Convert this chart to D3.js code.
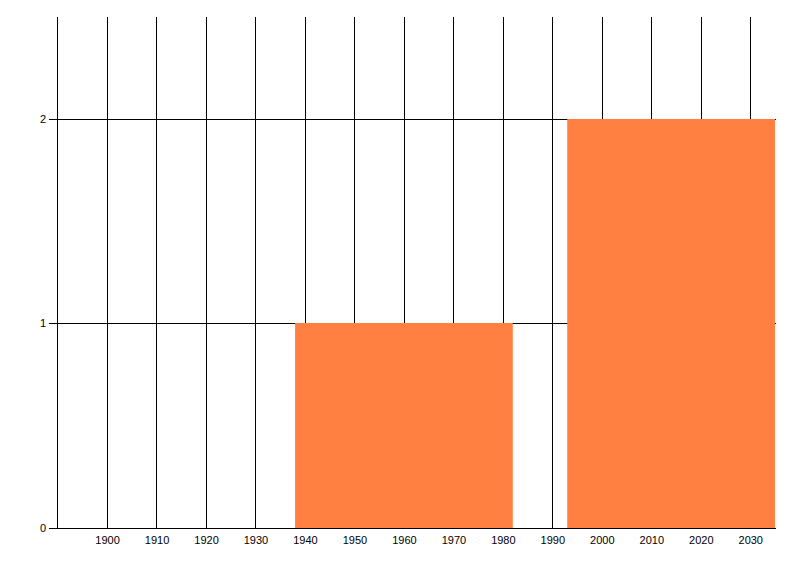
<!DOCTYPE html>
<html>
<head>
<meta charset="utf-8">
<script src="https://cdn.jsdelivr.net/npm/d3@7"></script>
<style>
  body { margin: 0; background: #fff; }
  svg { display: block; }
  text { font-family: "Liberation Sans", Arial, sans-serif; font-size: 11px; fill: #000; }
</style>
</head>
<body>
<svg id="chart" width="800" height="576"></svg>
<script>
// Data
const binStart = [1938, 1993];
const binEnd   = [1982, 2035];
const counts   = [1, 2];
const xTicks = [1890, 1900, 1910, 1920, 1930, 1940, 1950, 1960, 1970, 1980, 1990, 2000, 2010, 2020, 2030];
const xLabels = [1900, 1910, 1920, 1930, 1940, 1950, 1960, 1970, 1980, 1990, 2000, 2010, 2020, 2030];
const yTicks = [0, 1, 2];

const svg = d3.select("#chart");
const x = d3.scaleLinear().domain([1890, 2035]).range([57.6, 775]);
const y = d3.scaleLinear().domain([0, 2.5]).range([528, 16.75]);
const px = v => Math.round(v - 0.25);
const snap = v => px(v) + 0.5;

const grid = svg.append("g");
// vertical grid lines
grid.selectAll("line.v")
  .data(xTicks)
  .join("line")
  .attr("class", "v")
  .attr("x1", d => snap(x(d))).attr("x2", d => snap(x(d)))
  .attr("y1", px(y(2.5))).attr("y2", 528)
  .attr("stroke", "#000").attr("stroke-width", 1);

// horizontal grid lines with tick marks
grid.selectAll("line.h")
  .data(yTicks)
  .join("line")
  .attr("class", "h")
  .attr("x1", 49).attr("x2", 776)
  .attr("y1", d => snap(y(d))).attr("y2", d => snap(y(d)))
  .attr("stroke", "#000").attr("stroke-width", 1);

// bars
svg.append("g").selectAll("rect")
  .data(counts.map((c, i) => ({ s: binStart[i], e: binEnd[i], c })))
  .join("rect")
  .attr("x", d => x(d.s))
  .attr("width", d => x(d.e) - x(d.s))
  .attr("y", d => px(y(d.c)))
  .attr("height", d => 528 - px(y(d.c)))
  .attr("fill", "#ff8040");

// axis lines on top
svg.append("line")
  .attr("x1", 49).attr("x2", 776)
  .attr("y1", snap(y(0))).attr("y2", snap(y(0)))
  .attr("stroke", "#000");
svg.append("line")
  .attr("x1", snap(x(1890))).attr("x2", snap(x(1890)))
  .attr("y1", px(y(2.5))).attr("y2", 529)
  .attr("stroke", "#000");

// y labels
svg.append("g").selectAll("text")
  .data(yTicks)
  .join("text")
  .attr("x", 46)
  .attr("y", d => snap(y(d)))
  .attr("dy", "0.35em")
  .attr("text-anchor", "end")
  .text(d => d);

// x labels
svg.append("g").selectAll("text")
  .data(xLabels)
  .join("text")
  .attr("x", d => x(d) + 0.5)
  .attr("y", 544)
  .attr("text-anchor", "middle")
  .text(d => d);
</script>
</body>
</html>
